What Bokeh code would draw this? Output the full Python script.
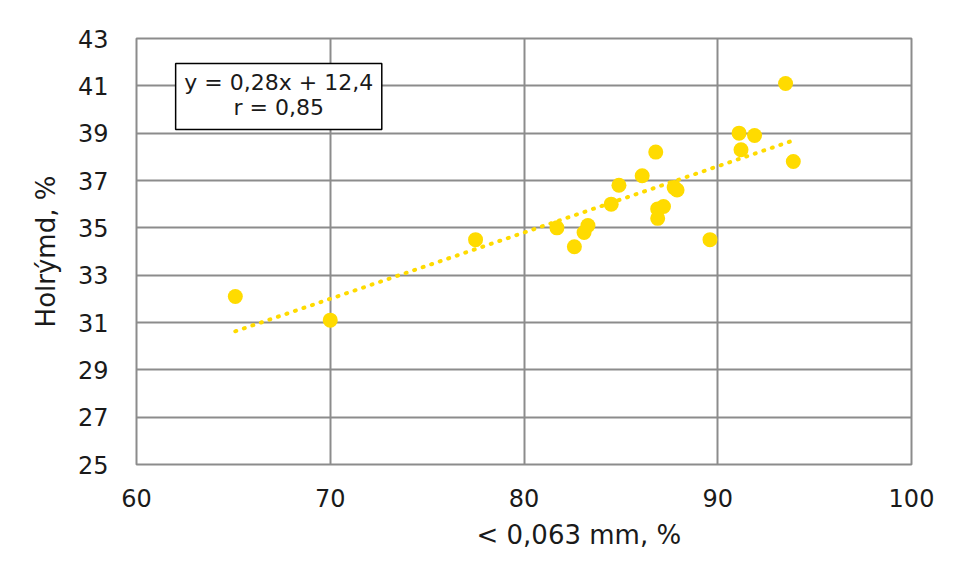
from bokeh.plotting import figure
from bokeh.models import Range1d, FixedTicker, Label, BoxAnnotation, ColumnDataSource, Title
from bokeh.embed import file_html
from bokeh.resources import INLINE

# ---- data ----
fines = [65.1, 70.0, 77.5, 81.7, 82.6, 83.1, 83.3, 84.5, 84.9, 86.1, 86.8,
         86.9, 86.9, 87.2, 87.75, 87.9, 89.6, 91.1, 91.2, 91.9, 93.5, 93.9]
voids = [32.1, 31.1, 34.5, 35.0, 34.2, 34.8, 35.1, 36.0, 36.8, 37.2, 38.2,
         35.4, 35.8, 35.9, 36.7, 36.6, 34.5, 39.0, 38.3, 38.9, 41.1, 37.8]
slope = 0.28
intercept = 12.4
x_ticks = [60, 70, 80, 90, 100]
y_ticks = [25, 27, 29, 31, 33, 35, 37, 39, 41, 43]
eq_text = "y = 0,28x + 12,4"
r_text = "r = 0,85"
x_title = "< 0,063 mm, %"
y_title = "Holrýmd, %"

YELLOW = "#FFDB00"
GRID = "#8c8c8c"
TXT = "#1a1a1a"
FONT = "DejaVu Sans"

p = figure(width=947, height=570, output_backend="svg", toolbar_location=None,
           x_range=Range1d(60, 100), y_range=Range1d(25, 43),
           min_border_left=136, min_border_right=36,
           min_border_top=38, min_border_bottom=106)
p.background_fill_color = "white"
p.border_fill_color = "white"
p.outline_line_color = GRID
p.outline_line_width = 2

p.xaxis.ticker = FixedTicker(ticks=x_ticks)
p.yaxis.ticker = FixedTicker(ticks=y_ticks)
for ax in (p.xaxis, p.yaxis):
    ax.axis_line_color = None
    ax.major_tick_line_color = None
    ax.minor_tick_line_color = None
    ax.major_label_text_font = FONT
    ax.major_label_text_font_size = "24px"
    ax.major_label_text_color = TXT
    ax.major_label_standoff = 18
p.yaxis.major_label_standoff = 22
p.yaxis.axis_label = y_title
p.yaxis.axis_label_text_font = FONT
p.yaxis.axis_label_text_font_size = "26px"
p.yaxis.axis_label_text_font_style = "normal"
p.yaxis.axis_label_text_color = TXT
p.yaxis.axis_label_standoff = 14

p.xgrid.grid_line_color = GRID
p.ygrid.grid_line_color = GRID
p.xgrid.grid_line_width = 2
p.ygrid.grid_line_width = 2

# trend line
xs = [min(fines), max(fines)]
ys = [slope * v + intercept for v in xs]
p.line(xs, ys, line_color=YELLOW, line_width=4, line_dash="1 8", line_cap="round")

src = ColumnDataSource(dict(x=fines, y=voids))
p.scatter("x", "y", source=src, size=15, fill_color=YELLOW, line_color=None)

# equation box
box = BoxAnnotation(left=62.02, right=72.66, top=41.94, bottom=39.16,
                    fill_color="white", fill_alpha=1.0,
                    line_color="black", line_width=1.5, line_alpha=1.0)
p.add_layout(box)
p.add_layout(Label(x=67.34, y=41.14, text=eq_text, text_font=FONT,
                   text_font_size="22px", text_color=TXT,
                   text_align="center", text_baseline="middle"))
p.add_layout(Label(x=67.34, y=40.08, text=r_text, text_font=FONT,
                   text_font_size="22px", text_color=TXT,
                   text_align="center", text_baseline="middle"))

# x-axis title (shifted right, as in the reference)
xt = Title(text=x_title, align="left", offset=340, standoff=17,
           text_font=FONT, text_font_size="26px", text_font_style="normal",
           text_color=TXT)
p.add_layout(xt, "below")

open("out.html", "w").write(file_html(p, INLINE))
